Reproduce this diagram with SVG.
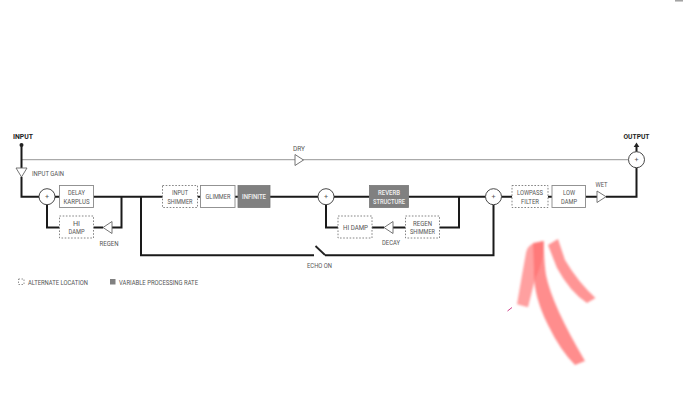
<svg xmlns="http://www.w3.org/2000/svg" width="687" height="400" viewBox="0 0 687 400">
<style>
text{font-family:"Roboto","Liberation Sans",sans-serif;font-size:7.2px;fill:#555;text-anchor:middle}
.b{fill:none;stroke:#1a1a1a;stroke-width:2}
.g{fill:none;stroke:#aaa;stroke-width:1.2}
.box{fill:#fff;stroke:#888;stroke-width:.9}
.dash{fill:#fff;stroke:#777;stroke-width:.9;stroke-dasharray:1.6 1.6}
.gray{fill:#808080;stroke:#777;stroke-width:.8}
.tri{fill:#fff;stroke:#666;stroke-width:.9}
.sum{fill:#fff;stroke:#333;stroke-width:.9}
.t{font-size:8px;font-weight:700;fill:#222}
.w{fill:#f2f2f2;font-weight:500}
.l{text-anchor:start}
</style>
<defs><filter id="soft" x="-10%" y="-10%" width="120%" height="120%"><feGaussianBlur stdDeviation="1"/></filter></defs>
<rect width="687" height="400" fill="#fff"/>
<g id="connectors">
<path class="g" d="M21.500 159.700H628"/>
<path class="b" d="M21.500 145V168M21.500 177V196.700H39M55 196.700H163M121.500 196.700V227.500H112M103 227.500H93.500M59.500 227.500H47V204.700M141 196.700V255.300H314M325 255.300H493.500V204.700M197.500 196.700H200.500M235 196.700H238M270 196.700H318M334 196.700H369.500M408.500 196.700H459V227.500H439.500M405.500 227.500H393M384 227.500H372M338 227.500H326V204.700M459 196.700H485.500M501.500 196.700H512M548 196.700H552M585.500 196.700H597M606 196.700H636.500V167.700M636.500 151.700V146"/>
<path d="M636.500 142.500l2.800 4.500h-5.600z" fill="#222"/>
<circle cx="21.500" cy="145" r="2" fill="#222"/>
<path d="M315.500 246L325 255" fill="none" stroke="#222" stroke-width="1.800"/>
</g>
<g id="input"><text class="t" x="23" y="139" textLength="20" lengthAdjust="spacingAndGlyphs">INPUT</text></g>
<g id="output"><text class="t" x="636.500" y="139" textLength="26" lengthAdjust="spacingAndGlyphs">OUTPUT</text></g>
<g id="input-gain"><path class="tri" d="M16 168H27L21.500 177z"/><text class="l" x="32" y="175.500" textLength="32" lengthAdjust="spacingAndGlyphs">INPUT GAIN</text></g>
<g id="dry"><path class="tri" d="M295 154.500V165.500L303.500 160z"/><text x="299" y="150.500" textLength="12" lengthAdjust="spacingAndGlyphs">DRY</text></g>
<g id="sum1"><circle class="sum" cx="47" cy="196.700" r="8"/><text x="47" y="199">+</text></g>
<g id="delay"><rect class="box" x="59.500" y="185.500" width="34" height="22"/><text x="76.500" y="195" textLength="17" lengthAdjust="spacingAndGlyphs">DELAY</text><text x="76.500" y="203.500" textLength="26" lengthAdjust="spacingAndGlyphs">KARPLUS</text></g>
<g id="hidamp1"><rect class="dash" x="59.500" y="216" width="34" height="22"/><text x="76.500" y="225.500">HI</text><text x="76.500" y="234" textLength="16" lengthAdjust="spacingAndGlyphs">DAMP</text></g>
<g id="regen"><path class="tri" d="M112 221.500V233.500L103 227.500z"/><text x="109" y="245.500" textLength="19" lengthAdjust="spacingAndGlyphs">REGEN</text></g>
<g id="input-shimmer"><rect class="dash" x="162.500" y="185.500" width="35" height="22"/><text x="180" y="195" textLength="16" lengthAdjust="spacingAndGlyphs">INPUT</text><text x="180" y="203.500" textLength="25" lengthAdjust="spacingAndGlyphs">SHIMMER</text></g>
<g id="glimmer"><rect class="box" x="200.500" y="185.500" width="34.500" height="22"/><text x="218" y="199.200" textLength="25" lengthAdjust="spacingAndGlyphs">GLIMMER</text></g>
<g id="infinite"><rect class="gray" x="238" y="185.500" width="32" height="22"/><text class="w" x="254" y="199.200" textLength="24" lengthAdjust="spacingAndGlyphs">INFINITE</text></g>
<g id="sum2"><circle class="sum" cx="326" cy="196.700" r="8"/><text x="326" y="199">+</text></g>
<g id="reverb"><rect class="gray" x="369.500" y="185.500" width="39" height="22"/><text class="w" x="389" y="195" textLength="22" lengthAdjust="spacingAndGlyphs">REVERB</text><text class="w" x="389" y="203.500" textLength="32" lengthAdjust="spacingAndGlyphs">STRUCTURE</text></g>
<g id="regen-shimmer"><rect class="dash" x="405.500" y="216" width="34" height="22"/><text x="422.500" y="225.500" textLength="19" lengthAdjust="spacingAndGlyphs">REGEN</text><text x="422.500" y="234" textLength="25" lengthAdjust="spacingAndGlyphs">SHIMMER</text></g>
<g id="decay"><path class="tri" d="M393 221.500V233.500L384 227.500z"/><text x="391" y="245" textLength="18" lengthAdjust="spacingAndGlyphs">DECAY</text></g>
<g id="hidamp2"><rect class="dash" x="338" y="216" width="34" height="22"/><text x="355.500" y="230" textLength="25" lengthAdjust="spacingAndGlyphs">HI DAMP</text></g>
<g id="echo"><text x="319.500" y="268" textLength="25" lengthAdjust="spacingAndGlyphs">ECHO ON</text></g>
<g id="sum3"><circle class="sum" cx="493.500" cy="196.700" r="8"/><text x="493.500" y="199">+</text></g>
<g id="lowpass"><rect class="dash" x="512" y="185.500" width="36" height="22"/><text x="530" y="195" textLength="26" lengthAdjust="spacingAndGlyphs">LOWPASS</text><text x="530" y="203.500" textLength="18" lengthAdjust="spacingAndGlyphs">FILTER</text></g>
<g id="lowdamp"><rect class="box" x="552" y="185.500" width="33.500" height="22"/><text x="569" y="195" textLength="12" lengthAdjust="spacingAndGlyphs">LOW</text><text x="569" y="203.500" textLength="16" lengthAdjust="spacingAndGlyphs">DAMP</text></g>
<g id="wet"><path class="tri" d="M597 191V202.500L606 196.700z"/><text x="601.500" y="187" textLength="12" lengthAdjust="spacingAndGlyphs">WET</text></g>
<g id="sum4"><circle class="sum" cx="636.500" cy="159.700" r="8"/><text x="636.500" y="162">+</text></g>
<g id="legend"><rect x="18.500" y="279" width="5.500" height="5.500" fill="none" stroke="#777" stroke-width=".8" stroke-dasharray="1.500 1.500"/><text class="l" x="28" y="284.800" textLength="60" lengthAdjust="spacingAndGlyphs">ALTERNATE LOCATION</text><rect x="110" y="279" width="5.500" height="5.500" fill="#808080"/><text class="l" x="119" y="284.800" textLength="79" lengthAdjust="spacingAndGlyphs">VARIABLE PROCESSING RATE</text></g>
<g id="marks" filter="url(#soft)">
<path fill="#ff8080" fill-opacity=".75" d="M526 253Q527 247 532 244L543.700 241Q544 262 535.300 278L528 307.300L517 304.300Q522 275 526 253Z"/>
<path fill="#ff7070" fill-opacity=".8" d="M533 243L543.700 241Q544 262 546 275Q552 305 585 361L575 365Q560 350 548 325Q533 295 534 270Z"/>
<path fill="#ff7a7a" fill-opacity=".8" d="M548 245L558 239L565 260Q578 282 595.500 298L587 303Q570 292 557 268Q553 258 548 245Z"/>
</g>
<path d="M507.500 311L512 307.500" stroke="#d0408a" stroke-width="1" fill="none"/>
<path d="M675 .8H683" stroke="#999" stroke-width="1.400"/>
</svg>
